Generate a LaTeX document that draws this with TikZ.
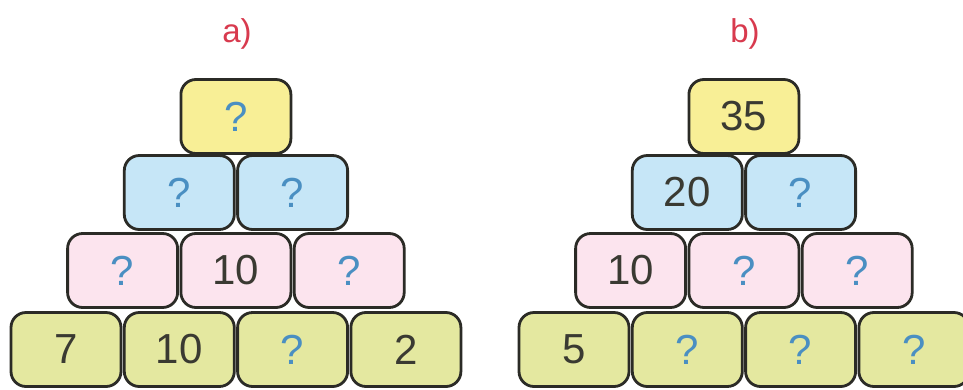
\documentclass[tikz,border=0pt]{standalone}
\usepackage{fontspec}
\setmainfont{Liberation Sans}
\definecolor{yel}{HTML}{F8EF96}
\definecolor{blu}{HTML}{C6E6F7}
\definecolor{pnk}{HTML}{FCE4EE}
\definecolor{grn}{HTML}{E4E8A0}
\definecolor{edge}{HTML}{2B2B26}
\definecolor{qcol}{HTML}{4A8FC2}
\definecolor{numcol}{HTML}{3A3A32}
\definecolor{labcol}{HTML}{D83A4E}
\tikzset{
  brick/.style={draw=edge, line width=2.8pt, rounded corners=15pt,
    minimum width=110pt, minimum height=74pt, inner sep=0pt,
    font=\fontsize{42}{42}\selectfont, text=numcol},
  ybrick/.style={brick, fill=yel},
  bbrick/.style={brick, fill=blu},
  pbrick/.style={brick, fill=pnk},
  gbrick/.style={brick, fill=grn},
  qm/.style={text=qcol},
  lab/.style={text=labcol, font=\fontsize{33}{33}\selectfont}
}
\begin{document}
\begin{tikzpicture}[x=1pt,y=-1pt]
\useasboundingbox[fill=white] (0,0) rectangle (963,389);
\begin{scope}
\clip (0,0) rectangle (963,389);
% pyramid a
\node[lab] (la) at (237,34) {a)};
\node[ybrick, qm] (a1) at (235.9,116.5) {?};
\node[bbrick, qm] (a21) at (179.3,192.5) {?};
\node[bbrick, qm] (a22) at (292.6,192.5) {?};
\node[pbrick, qm] (a31) at (122.6,270.5) {?};
\node[pbrick] (a32) at (235.9,270.5) {10};
\node[pbrick, qm] (a33) at (349.2,270.5) {?};
\node[gbrick] (a41) at (66,349.5) {7};
\node[gbrick] (a42) at (179.3,349.5) {10};
\node[gbrick, qm] (a43) at (292.6,349.5) {?};
\node[gbrick] (a44) at (405.9,349.5) {2};
% pyramid b
\node[lab] (lb) at (745,34) {b)};
\node[ybrick] (b1) at (743.9,116.5) {35};
\node[bbrick] (b21) at (687.3,192.5) {20};
\node[bbrick, qm] (b22) at (800.6,192.5) {?};
\node[pbrick] (b31) at (630.6,270.5) {10};
\node[pbrick, qm] (b32) at (743.9,270.5) {?};
\node[pbrick, qm] (b33) at (857.2,270.5) {?};
\node[gbrick] (b41) at (574,349.5) {5};
\node[gbrick, qm] (b42) at (687.3,349.5) {?};
\node[gbrick, qm] (b43) at (800.6,349.5) {?};
\node[gbrick, qm] (b44) at (913.9,349.5) {?};
\end{scope}
\end{tikzpicture}
\end{document}
